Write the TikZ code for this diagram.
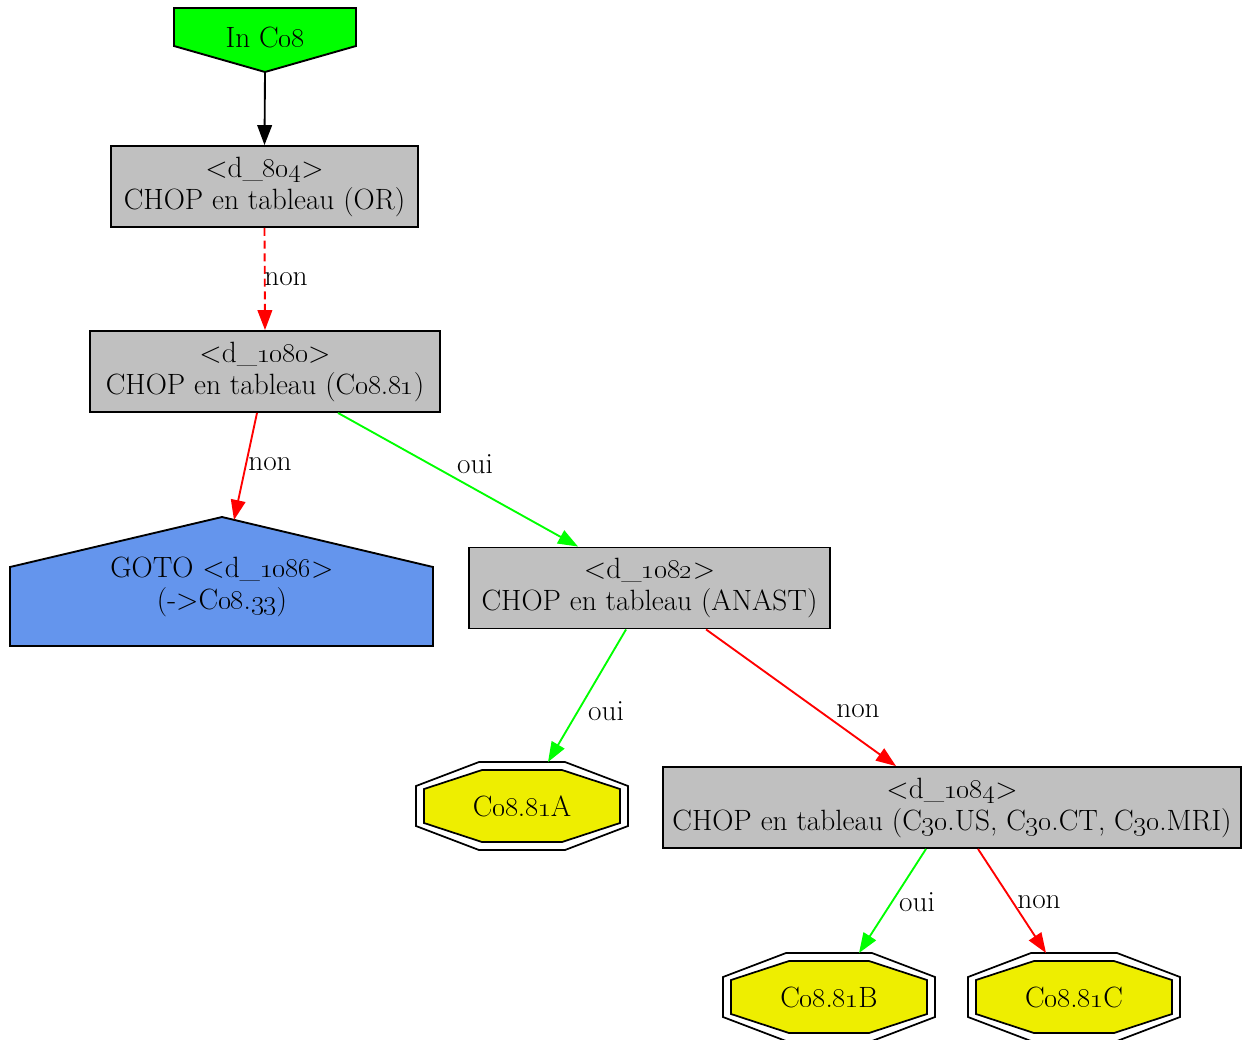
\documentclass[tikz,border=0pt]{standalone}
\usetikzlibrary{arrows.meta}
\definecolor{boxgray}{RGB}{192,192,192}
\definecolor{ingreen}{RGB}{0,255,0}
\definecolor{gotoblue}{RGB}{100,149,237}
\definecolor{leafyellow}{RGB}{238,238,0}

% old style digits as in the codes
\newcommand{\os}[1]{\oldstylenums{#1}}

% double octagon round a leaf, centre at (#1,#2)
\newcommand{\leafoct}[2]{%
  \draw[line width=1.3pt]
    (#1,#2) ++(-43,-44) -- ++(86,0) -- ++(63,24) -- ++(0,40)
    -- ++(-63,24) -- ++(-86,0) -- ++(-63,-24) -- ++(0,-40) -- cycle;
  \draw[line width=1.3pt, fill=leafyellow]
    (#1,#2) ++(-40,-36) -- ++(80,0) -- ++(58,19) -- ++(0,34)
    -- ++(-58,19) -- ++(-80,0) -- ++(-58,-19) -- ++(0,-34) -- cycle;
}

\begin{document}
\begin{tikzpicture}[>={Triangle[length=15pt,width=11pt]}, x=0.75pt, y=-0.75pt,
  line join=miter,
  every node/.style={font=\fontsize{22}{24}\selectfont},
  decision/.style={draw, fill=boxgray, line width=1.4pt, inner sep=0pt,
    minimum height=60.75pt, align=center},
  yes/.style={->, ingreen, line width=1.4pt},
  no/.style={->, red, line width=1.4pt}]

\useasboundingbox (0,0) rectangle (1251,1039);

%==================================================
% Entry point
%==================================================
\draw[line width=1.4pt, fill=ingreen]
  (174,8) -- (356,8) -- (356,46) -- (265,72) -- (174,46) -- cycle;
\node (inco) at (265,37) {In C\os{08}};
\coordinate (inco-tip) at (265,72);

%==================================================
% Decision boxes
%==================================================
\node[decision, minimum width=230.25pt] (d804) at (264.5,186.5)
  {<d\_\os{804}>\\CHOP en tableau (OR)};
\node[decision, minimum width=262.5pt] (d1080) at (265,371.5)
  {<d\_\os{1080}>\\CHOP en tableau (C\os{08}.\os{81})};
\node[decision, minimum width=270.75pt] (d1082) at (649.5,588)
  {<d\_\os{1082}>\\CHOP en tableau (ANAST)};
% text wider than the box, as in the reference
\node[decision, minimum width=433.5pt] (d1084) at (952,807.5)
  {<d\_\os{1084}>\\\makebox[433.5pt]{CHOP en tableau (C\os{30}.US, C\os{30}.CT, C\os{30}.MRI)}};

%==================================================
% GOTO house
%==================================================
\draw[line width=1.4pt, fill=gotoblue]
  (10,646) -- (433,646) -- (433,567) -- (222,517) -- (10,567) -- cycle;
\node[align=center] (goto) at (222,587) {GOTO <d\_\os{1086}>\\(->C\os{08}.\os{33})};
\coordinate (goto-roof) at (234,520);

%==================================================
% Leaves
%==================================================
\leafoct{522}{806}
\leafoct{829}{997}
\leafoct{1074}{997}

\node (leafA) at (522,806) {C\os{08}.\os{81}A};
\node (leafB) at (829,997) {C\os{08}.\os{81}B};
\node (leafC) at (1074,997) {C\os{08}.\os{81}C};

\coordinate (leafA-top) at (548,762);
\coordinate (leafB-top) at (859,953);
\coordinate (leafC-top) at (1046,953);

%==================================================
% Connectors
%==================================================
\draw[->, line width=1.4pt] (inco-tip) -- (d804.north);

\draw[no, dash pattern=on 6pt off 3.5pt] (d804.south) -- (d1080.north);
\node (l1) at (286,279) {non};

\draw[no] ([xshift=-6pt]d1080.south) -- (goto-roof);
\node (l2) at (270,464) {non};

\draw[yes] ([xshift=54.75pt]d1080.south) -- ([xshift=-53.6pt]d1082.north);
\node (l3) at (475,464) {oui};

\draw[yes] ([xshift=-17.6pt]d1082.south) -- (leafA-top);
\node (l4) at (606,711) {oui};

\draw[no] ([xshift=42.4pt]d1082.south) -- ([xshift=-42pt]d1084.north);
\node (l5) at (858,711) {non};

\draw[yes] ([xshift=-19.5pt]d1084.south) -- (leafB-top);
\node (l6) at (917,902) {oui};

\draw[no] ([xshift=19.5pt]d1084.south) -- (leafC-top);
\node (l7) at (1039,902) {non};

\end{tikzpicture}
\end{document}
